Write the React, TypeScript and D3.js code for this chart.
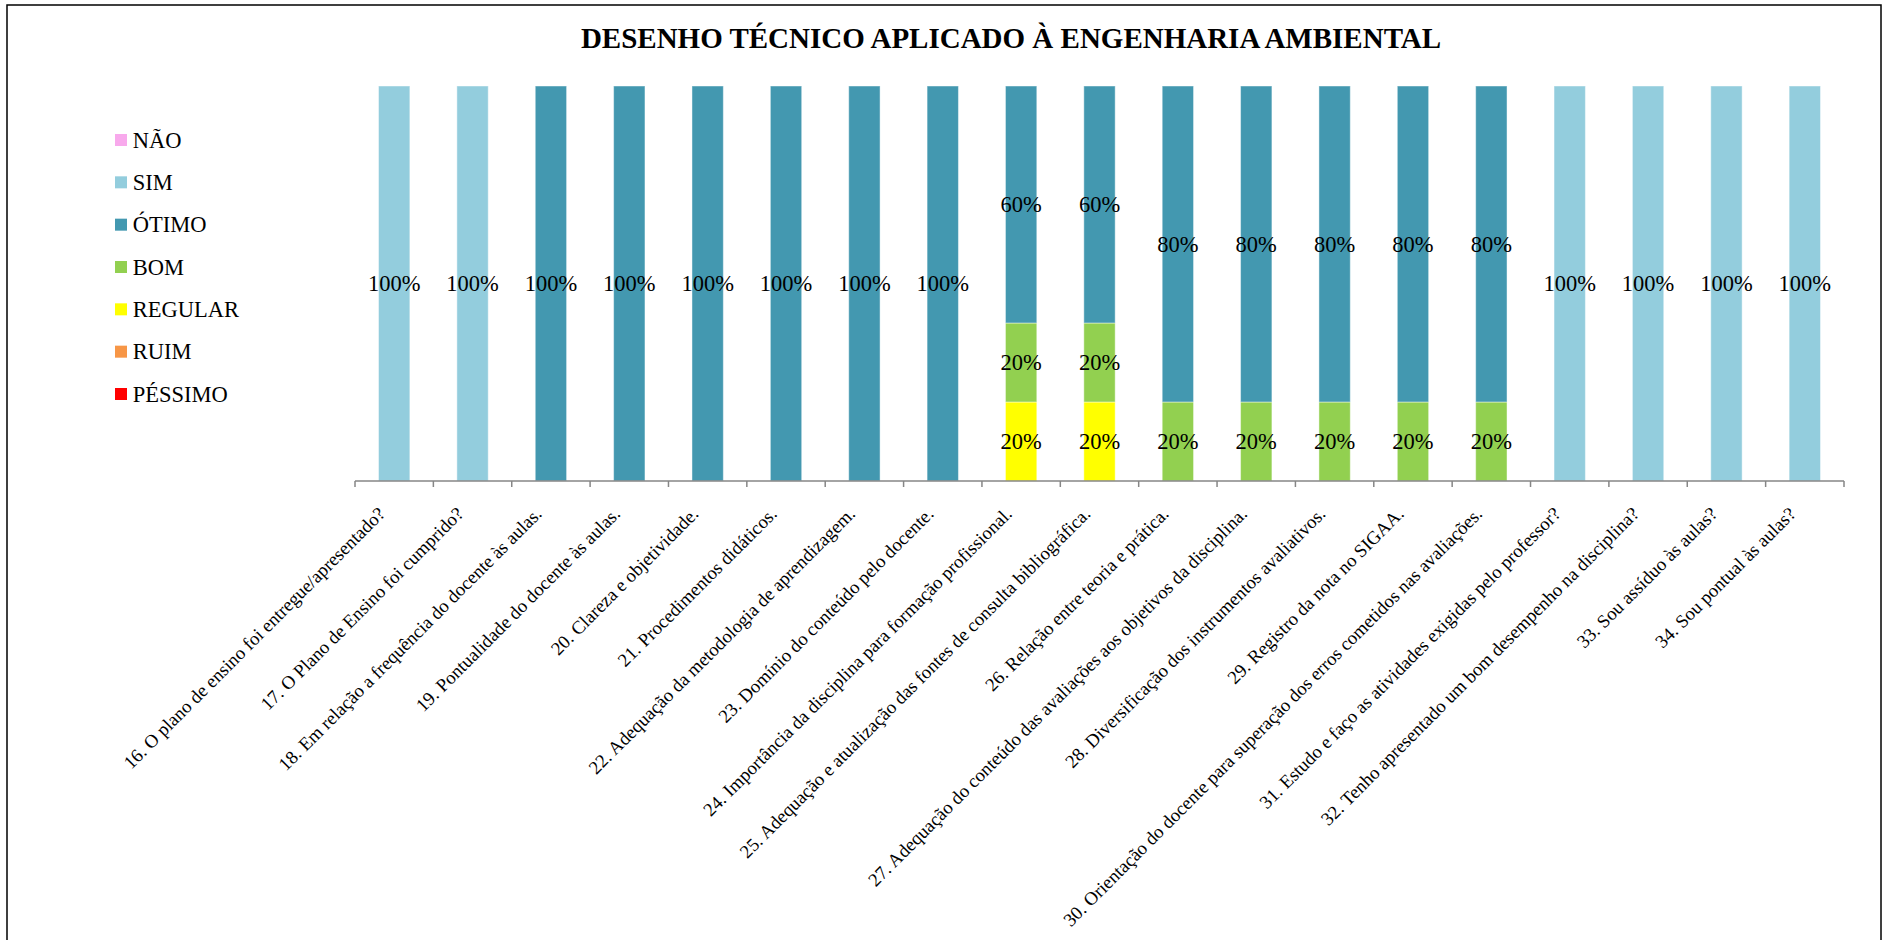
import React from "react";
import * as d3 from "d3";

const title = "DESENHO TÉCNICO APLICADO À ENGENHARIA AMBIENTAL";

const categories = [
  "16. O plano de ensino foi entregue/apresentado?",
  "17.  O Plano de Ensino foi cumprido?",
  "18. Em relação a frequência do docente às aulas.",
  "19. Pontualidade do docente às aulas.",
  "20. Clareza e objetividade.",
  "21. Procedimentos didáticos.",
  "22. Adequação da metodologia de aprendizagem.",
  "23. Domínio do conteúdo pelo docente.",
  "24. Importância da disciplina para formação profissional.",
  "25. Adequação e atualização das fontes de consulta bibliográfica.",
  "26. Relação entre teoria e prática.",
  "27. Adequação do conteúdo das avaliações aos objetivos da disciplina.",
  "28. Diversificação dos instrumentos avaliativos.",
  "29. Registro da nota no SIGAA.",
  "30. Orientação do docente para superação dos erros cometidos nas avaliações.",
  "31. Estudo e faço as atividades exigidas pelo professor?",
  "32. Tenho apresentado um bom desempenho na disciplina?",
  "33. Sou assíduo às aulas?",
  "34. Sou pontual às aulas?",
];

// series values (fractions), bottom-to-top stacking order
const seriesKeys = ["PÉSSIMO", "RUIM", "REGULAR", "BOM", "ÓTIMO", "SIM", "NÃO"];
const pessimo = [0, 0, 0, 0, 0, 0, 0, 0, 0, 0, 0, 0, 0, 0, 0, 0, 0, 0, 0];
const ruim = [0, 0, 0, 0, 0, 0, 0, 0, 0, 0, 0, 0, 0, 0, 0, 0, 0, 0, 0];
const regular = [0, 0, 0, 0, 0, 0, 0, 0, 0.2, 0.2, 0, 0, 0, 0, 0, 0, 0, 0, 0];
const bom = [0, 0, 0, 0, 0, 0, 0, 0, 0.2, 0.2, 0.2, 0.2, 0.2, 0.2, 0.2, 0, 0, 0, 0];
const otimo = [0, 0, 1, 1, 1, 1, 1, 1, 0.6, 0.6, 0.8, 0.8, 0.8, 0.8, 0.8, 0, 0, 0, 0];
const sim = [1, 1, 0, 0, 0, 0, 0, 0, 0, 0, 0, 0, 0, 0, 0, 1, 1, 1, 1];
const nao = [0, 0, 0, 0, 0, 0, 0, 0, 0, 0, 0, 0, 0, 0, 0, 0, 0, 0, 0];

const seriesValues: Record<string, number[]> = {
  "PÉSSIMO": pessimo,
  "RUIM": ruim,
  "REGULAR": regular,
  "BOM": bom,
  "ÓTIMO": otimo,
  "SIM": sim,
  "NÃO": nao,
};

const colors: Record<string, string> = {
  "NÃO": "#F8A9EC",
  "SIM": "#93CDDD",
  "ÓTIMO": "#4398B0",
  "BOM": "#92D050",
  "REGULAR": "#FFFF00",
  "RUIM": "#F79646",
  "PÉSSIMO": "#FF0000",
};

const legendOrder = ["NÃO", "SIM", "ÓTIMO", "BOM", "REGULAR", "RUIM", "PÉSSIMO"];

const W = 1883;
const H = 940;
const FONT = "Liberation Serif";

export default function App() {
  const x = d3
    .scaleBand<number>()
    .domain(d3.range(categories.length))
    .range([355, 1844])
    .paddingInner(0.6)
    .paddingOuter(0.3);
  const y = d3.scaleLinear().domain([0, 1]).range([481, 86]);

  const rows = categories.map((_, i) => {
    const r: Record<string, number> = { i };
    seriesKeys.forEach((k) => (r[k] = seriesValues[k][i]));
    return r;
  });
  const stacked = d3.stack<Record<string, number>>().keys(seriesKeys)(rows);

  const step = x.step();
  const x0 = x.range()[0];
  const ticks = d3.range(categories.length + 1).map((i) => x0 + i * step);

  const legendY = d3.scalePoint<string>().domain(legendOrder).range([140, 394]);

  return (
    <svg
      width={W}
      height={H}
      style={{ position: "absolute", left: 0, top: 0, background: "#fff", fontFamily: FONT }}
    >
      <rect x={7} y={5} width={1874} height={960} fill="#fff" stroke="#000" strokeWidth={1.5} />
      <text x={1011} y={48} textAnchor="middle" fontSize={29} fontWeight="bold" fill="#000" style={{ fontFamily: FONT }}>
        {title}
      </text>

      {stacked.map((s) => (
        <g key={s.key}>
          {s.map((d, i) =>
            d[1] - d[0] > 0 ? (
              <rect
                key={i}
                x={x(i)}
                y={y(d[1])}
                width={x.bandwidth()}
                height={y(d[0]) - y(d[1])}
                fill={colors[s.key]}
                stroke="#ffffff"
                strokeOpacity={0.45}
                strokeWidth={1}
              />
            ) : null
          )}
        </g>
      ))}

      {stacked.map((s) => (
        <g key={"l" + s.key}>
          {s.map((d, i) =>
            d[1] - d[0] > 0 ? (
              <text
                key={i}
                x={(x(i) as number) + x.bandwidth() / 2}
                y={(y(d[0]) + y(d[1])) / 2 + 7.6}
                textAnchor="middle"
                fontSize={22.5}
                fill="#000"
                style={{ fontFamily: FONT }}
              >
                {Math.round((d[1] - d[0]) * 100) + "%"}
              </text>
            ) : null
          )}
        </g>
      ))}

      <line x1={x0} x2={x.range()[1]} y1={481} y2={481} stroke="#868686" strokeWidth={1.5} />
      {ticks.map((t, i) => (
        <line key={i} x1={t} x2={t} y1={481} y2={487} stroke="#868686" strokeWidth={1.5} />
      ))}

      {categories.map((c, i) => {
        const cx = (x(i) as number) + x.bandwidth() / 2 - 8;
        const cy = 515;
        return (
          <text
            key={i}
            transform={`translate(${cx},${cy}) rotate(-45)`}
            textAnchor="end"
            fontSize={18.7}
            fill="#000"
            style={{ fontFamily: FONT }}
          >
            {c}
          </text>
        );
      })}

      {legendOrder.map((k) => (
        <g key={k} transform={`translate(0,${legendY(k)})`}>
          <rect x={115} y={-6} width={12} height={12} fill={colors[k]} />
          <text x={132.7} y={7.8} fontSize={22.5} fill="#000" style={{ fontFamily: FONT }}>
            {k}
          </text>
        </g>
      ))}
    </svg>
  );
}
